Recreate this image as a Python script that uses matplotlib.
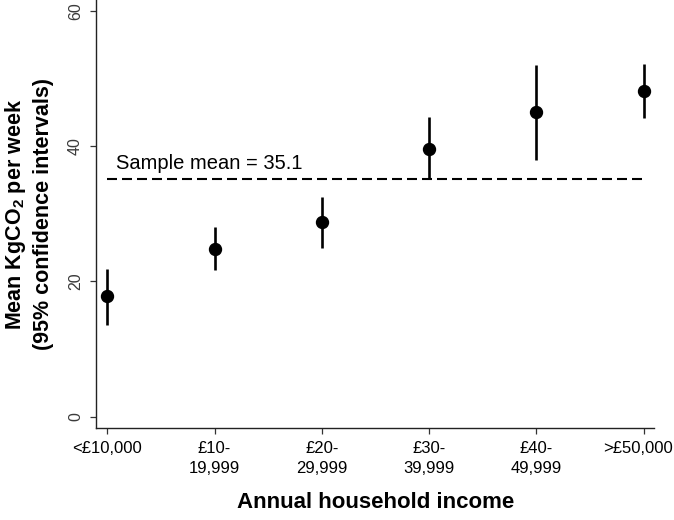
import matplotlib
matplotlib.use("Agg")
import matplotlib.pyplot as plt
from matplotlib.transforms import ScaledTranslation

# income bands and the means / 95% CIs
income_bands = ["<£10,000", "£10-\n19,999", "£20-\n29,999", "£30-\n39,999", "£40-\n49,999", ">£50,000"]
mean_co2 = [17.8, 24.8, 28.8, 39.5, 45.0, 48.2]
ci_low = [13.6, 21.7, 25.0, 35.1, 37.9, 44.2]
ci_high = [21.9, 28.0, 32.5, 44.3, 52.0, 52.1]
sample_mean = 35.1

plt.rcParams["font.family"] = ["Liberation Sans", "DejaVu Sans"]
plt.rcParams["mathtext.fontset"] = "custom"
plt.rcParams["mathtext.rm"] = "Liberation Sans"
plt.rcParams["mathtext.bf"] = "Liberation Sans:bold"

fig = plt.figure(figsize=(6.74, 5.2), dpi=100)
ax = fig.add_axes([0.1424, 0.1763, 0.8284, 0.8237])

x = list(range(len(income_bands)))
err = [[m - lo for m, lo in zip(mean_co2, ci_low)],
       [hi - m for m, hi in zip(mean_co2, ci_high)]]

# sample mean reference line
ax.plot([x[0], x[-1]], [sample_mean, sample_mean], color="black", lw=1.5,
        dashes=(4.8, 2.4), zorder=1)
ax.text(0.081, 36.6, "Sample mean = %.1f" % sample_mean,
        fontsize=14.5, va="baseline", ha="left")

ax.errorbar(x, mean_co2, yerr=err, fmt="o", color="black", ecolor="black",
            markersize=8.6, elinewidth=1.9, capsize=0, zorder=3)

ax.set_xlim(-0.105, 5.098)
ax.set_ylim(-1.71, 61.58)
ax.set_xticks(x)
ax.set_xticklabels(income_bands, fontsize=12, linespacing=1.45)
ax.set_yticks([0, 20, 40, 60])
ax.set_yticklabels(["0", "20", "40", "60"], fontsize=11.5, rotation=90,
                   va="center", color="#3a3a3a")
ax.tick_params(axis="x", length=4, width=0.9, color="#333333", pad=5)
ax.tick_params(axis="y", length=4.3, width=0.9, color="#333333", pad=5)

# last label sits a little left of its tick so it stays inside the figure
last = ax.xaxis.get_major_ticks()[-1].label1
last.set_transform(last.get_transform() + ScaledTranslation(-6 / 100, 0, fig.dpi_scale_trans))

ax.spines["top"].set_visible(False)
ax.spines["right"].set_visible(False)
for s in ["left", "bottom"]:
    ax.spines[s].set_linewidth(1.0)
    ax.spines[s].set_color("#222222")

ax.set_xlabel("Annual household income", fontsize=16, fontweight="bold", labelpad=11)
ax.set_ylabel("Mean KgCO$_\\mathbf{2}$ per week\n(95% confidence intervals)",
              fontsize=15.5, fontweight="bold", linespacing=1.3)
ax.yaxis.set_label_coords(-0.075, 0.5)

fig.savefig("out.png", dpi=100)
